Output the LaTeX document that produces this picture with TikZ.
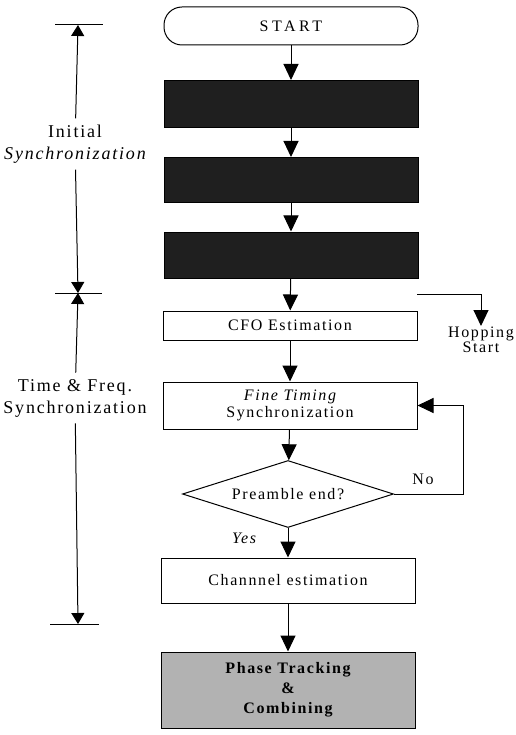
\documentclass[tikz,border=0pt]{standalone}
\usepackage{fontspec}
\setmainfont{Liberation Serif}
\newfontfamily\spaced[LetterSpace=10]{Liberation Serif}
\newfontfamily\widespaced[LetterSpace=22]{Liberation Serif}
\usetikzlibrary{arrows.meta, shapes.geometric}

\begin{document}
\begin{tikzpicture}[x=1pt, y=-1pt, line width=1pt,
    >={Triangle[length=16pt, width=15pt]},
    dimtip/.style={-{Triangle[length=11pt, width=13pt]}},
    every node/.style={font=\fontsize{16}{18}\spaced, inner sep=0pt},
    box/.style={draw, minimum width=254pt, align=center},
    darkbox/.style={box, fill=black!88},
    dimlabel/.style={font=\fontsize{18}{22}\spaced, align=center}]
    \useasboundingbox (0,0) rectangle (515,735);

    % main column
    \node[box, rounded corners=18pt, minimum height=38pt, font=\fontsize{16}{18}\widespaced] (start) at (291,26) {START};
    \node[darkbox, minimum height=47pt] (stageA) at (291,104) {};
    \node[darkbox, minimum height=45pt] (stageB) at (291,180) {};
    \node[darkbox, minimum height=46pt] (stageC) at (291,255) {};
    \node[box, minimum height=29pt] (cfo) at (290,325.5) {CFO Estimation};
    \node[box, minimum height=47pt, font=\fontsize{16}{17}\spaced] (fine) at (290,405.5) {\itshape Fine Timing\\Synchronization};
    \node[draw, diamond, aspect=3.15, minimum width=211pt, minimum height=67pt] (preamble) at (288,494) {Preamble end?};
    \node[box, minimum height=45pt] (chan) at (288,580.5) {Channnel estimation};
    \node[box, minimum height=76pt, fill=black!30, font=\fontsize{16}{20}\bfseries\spaced] (phase) at (288,690) {Phase Tracking\\\&\\Combining};

    \draw[->] (start) -- (stageA);
    \draw[->] (stageA) -- (stageB);
    \draw[->] (stageB) -- (stageC);
    \draw[->] (stageC) -- (cfo);
    \draw[->] (cfo) -- (fine);
    \draw[->] (fine) -- (preamble);
    \draw[->] (preamble) -- (chan);
    \draw[->] (chan) -- (phase);
    \node[font=\fontsize{16}{18}\itshape\spaced] (yes) at (244,538) {Yes};

    % loop back
    \draw[->] (preamble.east) -- ++(69,0) coordinate (loopc) |- (fine.east);
    \node (no) at (423,479) {No};

    % hopping
    \coordinate (hopfrom) at (417,294);
    \node[anchor=north, align=center, font=\fontsize{16}{15}\spaced] (hop) at (481,326) {Hopping\\Start};
    \draw[->] (hopfrom) -| (hop.north);

    % side dimensions
    \draw (55,25) -- (103,25);
    \draw (55,293) -- (102,293);
    \draw (50,624) -- (99,624);
    \coordinate (tA) at (78,25);
    \coordinate (tB) at (78,293);
    \coordinate (tC) at (78,624);
    \node[dimlabel, fill=white, inner sep=6pt] (initsync) at (75,144) {Initial\\{\itshape Synchronization}};
    \node[dimlabel, fill=white, inner sep=6pt] (tfsync) at (75,398) {Time \& Freq.\\Synchronization};
    \draw[dimtip] (initsync) -- (tA);
    \draw[dimtip] (initsync) -- (tB);
    \draw[dimtip] (tfsync) -- (tB);
    \draw[dimtip] (tfsync) -- (tC);
\end{tikzpicture}
\end{document}
